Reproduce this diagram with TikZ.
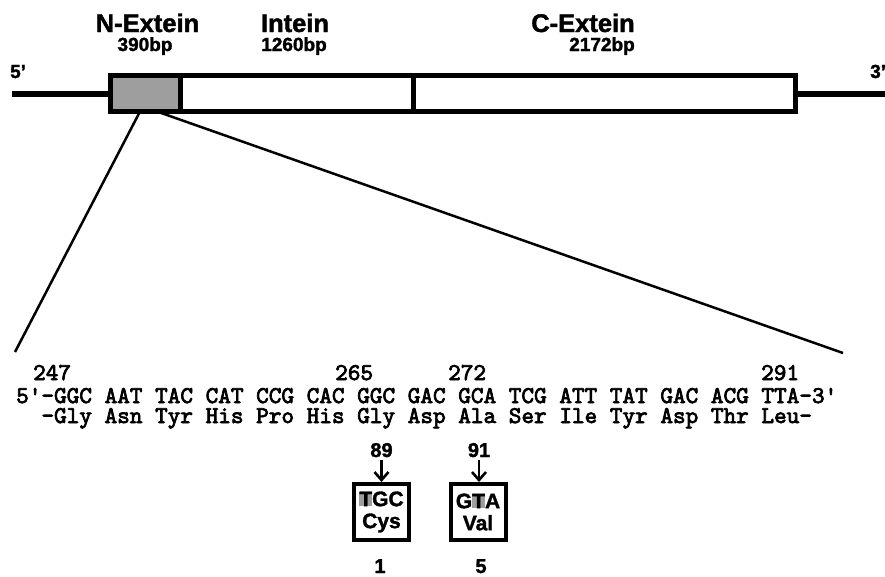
\documentclass[tikz,border=0pt]{standalone}
\usepackage{fontspec}
\setmainfont{Liberation Sans}[BoldFeatures={FakeBold=1.6}]
\newfontfamily\seqfont{lmmono10-regular.otf}[FakeBold=3]
\usepackage{xcolor}
\usetikzlibrary{positioning, arrows.meta, calc}
\definecolor{shade}{gray}{0.62}
\setlength{\fboxsep}{0pt}

\begin{document}
\begin{tikzpicture}[x=1pt, y=-1pt,
  genebox/.style={draw, line width=5pt, inner sep=0pt, outer sep=0pt, minimum height=36pt},
  strand/.style={line width=6pt},
  zoomline/.style={line width=2.5pt},
  title/.style={font=\bfseries\fontsize{25.5}{30}\selectfont, anchor=base, inner sep=0pt},
  size/.style={font=\bfseries\fontsize{19}{22}\selectfont, anchor=base, inner sep=0pt},
  seq/.style={font=\seqfont\fontsize{24.06}{26}\selectfont, anchor=base west, inner sep=0pt},
  codon/.style={draw, line width=4pt, minimum width=55pt, minimum height=56pt, inner sep=0pt, align=center, font=\bfseries\fontsize{21}{22}\selectfont},
  small/.style={font=\bfseries\fontsize{20}{22}\selectfont, anchor=base, inner sep=0pt},
  pointer/.style={-{Straight Barb[length=8pt, width=14pt]}, line width=2.6pt, shorten <=3pt}]

  \useasboundingbox (0,0) rectangle (885,576);

  \node[genebox, fill=shade, minimum width=70pt] (nex) at (145.5,93.5) {};
  \node[genebox, fill=white, minimum width=232.5pt] (intein) at (296.75,93.5) {};
  \node[genebox, fill=white, minimum width=382.5pt] (cext) at (604.25,93.5) {};

  \coordinate (endL) at (12,93.5);
  \coordinate (endR) at (885,93.5);
  \draw[strand] (endL) -- (nex.west);
  \draw[strand] (cext.east) -- (endR);

  \node[size, anchor=base west] (five) at (10,78) {5'};
  \node[size, anchor=base west] (three) at (870,78) {3'};

  \node[title] (tnex) at (147.5,32) {N-Extein};
  \node[size] (bpnex) at (145,51) {390bp};
  \node[title] (tint) at (295,32) {Intein};
  \node[size] (bpint) at (294,51) {1260bp};
  \node[title] (tcext) at (583,32) {C-Extein};
  \node[size] (bpcext) at (602,51) {2172bp};

  \coordinate (zoomL) at (15,352);
  \coordinate (zoomR) at (843,353);
  \draw[zoomline] ([xshift=-5.5pt]nex.south) -- (zoomL);
  \draw[zoomline] ([xshift=11.5pt]nex.south) -- (zoomR);

  \node[seq] (n247) at (33,380) {247};
  \node[seq] (n265) at (335,380) {265};
  \node[seq] (n272) at (448,380) {272};
  \node[seq] (n291) at (761,380) {291};
  \node[seq] (dna) at (16,403) {5'-GGC AAT TAC CAT CCG CAC GGC GAC GCA TCG ATT TAT GAC ACG TTA-3'};
  \node[seq] (prot) at (16,423) {\hphantom{5'}-Gly Asn Tyr His Pro His Gly Asp Ala Ser Ile Tyr Asp Thr Leu-};

  \node[codon] (cys) at (381.5,512) {\colorbox{shade}{T}GC\\Cys};
  \node[codon] (val) at (478,512) {G\colorbox{shade}{T}A\\Val};

  \node[small] (n89) at (381.5,457) {89};
  \node[small] (n91) at (479,457) {91};
  \draw[pointer] (n89.south) -- (cys.north);
  \draw[pointer] (n91.south) -- (n91.south |- val.north);

  \node[small] (n1) at (380,573) {1};
  \node[small] (n5) at (481,573) {5};
\end{tikzpicture}
\end{document}
